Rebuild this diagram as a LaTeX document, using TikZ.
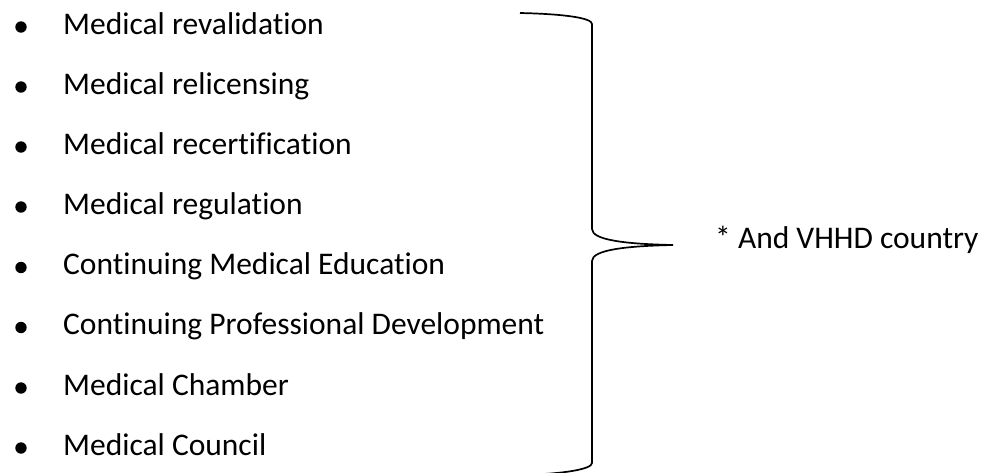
\documentclass[tikz,border=0pt]{standalone}
\usepackage{fontspec}
\setmainfont{Carlito}[Ligatures=NoCommon]
\tikzset{
  item/.style={anchor=base west, inner sep=0pt, font=\fontsize{31.5}{38}\selectfont},
  dot/.style={fill=black},
  brace/.style={line width=1.7pt}
}
\begin{document}
\begin{tikzpicture}[x=1pt,y=-1pt]

			\useasboundingbox (0,0) rectangle (983,472);

			\node[item] (reval) at (63,34) {Medical revalidation};
			\node[item] (relic) at (63,94) {Medical relicensing};
			\node[item] (recert) at (63,154) {Medical recertification};
			\node[item] (regul) at (63,214) {Medical regulation};
			\node[item] (cme) at (63,274.5) {Continuing Medical Education};
			\node[item] (cpd) at (63,334.5) {Continuing Professional Development};
			\node[item] (chamber) at (63,395) {Medical Chamber};
			\node[item] (council) at (63,455) {Medical Council};

			\fill[dot] (21,27) circle (5.7);
			\fill[dot] (21,87) circle (5.7);
			\fill[dot] (21,147) circle (5.7);
			\fill[dot] (21,207) circle (5.7);
			\fill[dot] (21,267.5) circle (5.7);
			\fill[dot] (21,327.5) circle (5.7);
			\fill[dot] (21,388) circle (5.7);
			\fill[dot] (21,448) circle (5.7);

			\coordinate (T) at (520,13);
			\coordinate (M) at (673,245);
			\coordinate (E) at (520,475);

			\draw[brace] (T) .. controls (565,14) and (592,18) .. (592,24)
				-- (592,229) .. controls (592,240) and (625,244) .. (M)
				.. controls (625,246) and (592,250) .. (592,261)
				-- (592,463) .. controls (592,469) and (565,474) .. (E);

			\node[item] (vhhd) at (715,248) {* And VHHD country};
		\end{tikzpicture}
\end{document}
